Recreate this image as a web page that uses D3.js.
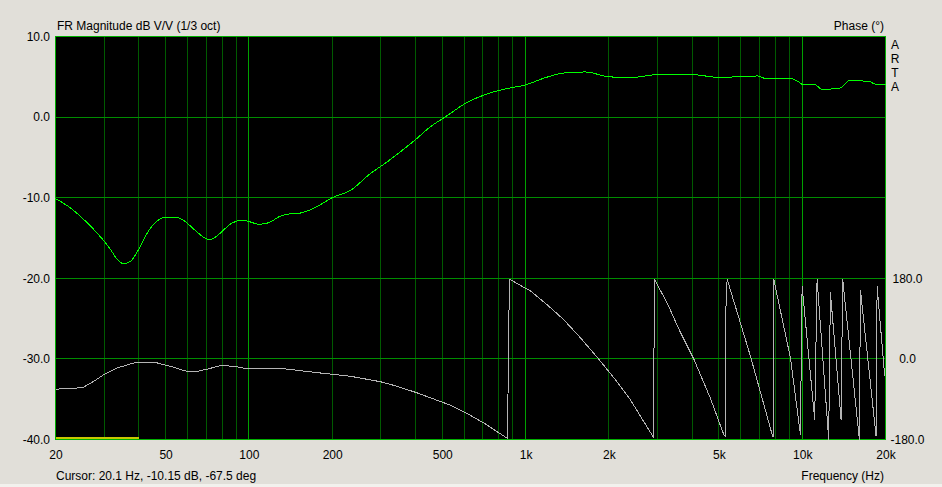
<!DOCTYPE html>
<html>
<head>
<meta charset="utf-8">
<script src="https://cdn.jsdelivr.net/npm/d3@7/dist/d3.min.js"></script>
<style>
  html, body { margin: 0; padding: 0; background: #e1dfd9; }
  svg { display: block; }
  text { font-family: "Liberation Sans", Arial, sans-serif; font-size: 12px; fill: #000; }
</style>
</head>
<body>
<svg id="chart" width="942" height="487"></svg>
<script>
// ---------------- data ----------------
const magFreq = [20, 22.7, 25.3, 28.3, 31.6, 33.5, 35.3, 37.3, 40.6, 43.4, 46.6, 49.9, 54.2, 58.0, 63.2, 68.6, 71.6, 75.7, 81.0, 87.3, 95, 101, 108.7, 118, 129.6, 141, 153.6, 166.6, 185, 200, 233, 275, 312, 353, 400, 453, 522, 606, 716, 846, 1000, 1181, 1394, 1646, 2000, 2392, 3073, 3944, 4467, 5000, 5735, 6889, 7365, 9067, 9580, 10100, 10970, 11400, 11800, 12400, 13100, 13700, 14200, 14800, 16200, 17600, 18300, 20000];
const magDb   = [-10.1, -11.3, -12.7, -14.4, -16.4, -17.7, -18.2, -17.9, -16.0, -14.1, -12.9, -12.4, -12.4, -12.8, -13.9, -14.9, -15.2, -14.9, -14.0, -13.1, -12.8, -13.0, -13.3, -13.1, -12.3, -12.0, -11.9, -11.5, -10.7, -10.0, -9.1, -7.0, -5.7, -4.3, -2.8, -1.2, 0.2, 1.7, 2.8, 3.5, 4.0, 4.9, 5.5, 5.6, 5.0, 4.9, 5.3, 5.3, 5.1, 4.9, 5.0, 5.1, 4.8, 4.8, 4.5, 4.0, 4.1, 3.8, 3.4, 3.4, 3.6, 3.6, 4.0, 4.6, 4.5, 4.4, 4.1, 4.1];

const phaseFreq = [20, 23.3, 25.3, 27.5, 29.9, 33.5, 38.4, 42.9, 46.6, 52, 59.8, 65, 71.6, 78.8, 89, 98, 133.7, 176, 233, 299, 343, 406, 536, 632, 706, 862, 866, 875, 1046, 1197, 1372, 1579, 1836, 2084, 2392, 2602, 2905, 2912, 2920, 3249, 3624, 4054, 4658, 5204, 5270, 5278, 5354, 6500, 7786, 7860, 7890, 9067, 9852, 9920, 9992, 11096, 11318, 12466, 12644, 13820, 14004, 16094, 16230, 18494, 18652, 19868];
const phaseDeg  = [-67.5, -66, -63, -50, -35, -20, -9, -7.5, -9, -16.5, -28, -28, -22, -15, -16.5, -22, -22, -30.6, -38.8, -51, -61, -76, -103.5, -126, -143, -178, 0, 178, 151, 121, 88, 47, 0, -42, -91, -128, -176, 0, 178, 125, 60, 0, -88, -169, -172, 88, 178, 6, -169, -175, 178, 2, -169, 0, 162, -135.5, 178, -180, 148.7, -135.5, 178, -180, 154.7, -172.7, 162, -38.8];

const xTickValues = [20, 50, 100, 200, 500, 1000, 2000, 5000, 10000, 20000];
const xTickLabels = ["20", "50", "100", "200", "500", "1k", "2k", "5k", "10k", "20k"];
const magTicks = [10, 0, -10, -20, -30, -40];
const phaseTicks = [180, 0, -180];
const cursorBand = [20, 40];

const titleLeft = "FR Magnitude dB V/V (1/3 oct)";
const titleRight = "Phase (°)";
const xTitle = "Frequency (Hz)";
const cursorText = "Cursor: 20.1 Hz, -10.15 dB, -67.5 deg";
const brand = ["A", "R", "T", "A"];

// ---------------- layout ----------------
const L = 55, R = 885, T = 36.5, B = 439.5;
const svg = d3.select("#chart");

const x = d3.scaleLog().domain([20, 20000]).range([L + 0.5, R + 0.5]);
const yMag = d3.scaleLinear().domain([10, -40]).range([T, B]);
const yPh = d3.scaleLinear().domain([-180, 180]).range([B, yMag(-20)]);

// bottom light strip
svg.append("rect").attr("x", 0).attr("y", 484).attr("width", 942).attr("height", 3).attr("fill", "#f2f1ed");

// plot background
svg.append("rect").attr("x", L).attr("y", 36).attr("width", R - L + 1).attr("height", 404).attr("fill", "#000");

const grid = svg.append("g").attr("shape-rendering", "crispEdges");
const snap = v => Math.floor(v) + 0.5;

// vertical grid lines
x.ticks().filter(f => f > 20 && f < 20000).forEach(f => {
  const isDecade = Math.abs(Math.log10(f) - Math.round(Math.log10(f))) < 1e-9;
  grid.append("line")
    .attr("x1", snap(x(f))).attr("x2", snap(x(f)))
    .attr("y1", 36).attr("y2", 440)
    .attr("stroke", isDecade ? "#00a000" : "#005a00").attr("stroke-width", 1);
});
// horizontal grid lines
magTicks.filter(v => v < 10 && v > -40).forEach(v => {
  grid.append("line")
    .attr("x1", L).attr("x2", R + 1)
    .attr("y1", snap(yMag(v))).attr("y2", snap(yMag(v)))
    .attr("stroke", "#008c00").attr("stroke-width", 1);
});
// border
grid.append("rect").attr("x", L + 0.5).attr("y", 36.5).attr("width", R - L).attr("height", 403)
  .attr("fill", "none").attr("stroke", "#00b000").attr("stroke-width", 1);

// cursor band (yellow)
svg.append("line")
  .attr("x1", x(cursorBand[0])).attr("x2", x(cursorBand[1]))
  .attr("y1", 437.5).attr("y2", 437.5)
  .attr("stroke", "#c8c800").attr("stroke-width", 2).attr("shape-rendering", "crispEdges");

// phase curve
const phaseData = phaseFreq.map((f, i) => [f, phaseDeg[i]]);
svg.append("path").datum(phaseData)
  .attr("fill", "none").attr("stroke", "#b4b4b4").attr("stroke-width", 1)
  .attr("shape-rendering", "crispEdges")
  .attr("d", d3.line().x(d => x(d[0])).y(d => yPh(d[1])));

// magnitude curve
const magData = magFreq.map((f, i) => [f, magDb[i]]);
svg.append("path").datum(magData)
  .attr("fill", "none").attr("stroke", "#00ff00").attr("stroke-width", 1)
  .attr("shape-rendering", "crispEdges")
  .attr("d", d3.line().curve(d3.curveMonotoneX).x(d => x(d[0])).y(d => yMag(d[1])));

// axes
const fmt = d => d.toFixed(1);
const leftAxis = svg.append("g").attr("transform", `translate(${L},0)`)
  .call(d3.axisLeft(yMag).tickValues(magTicks).tickFormat(fmt).tickSize(0).tickPadding(5));
const rightAxis = svg.append("g").attr("transform", `translate(${R},0)`)
  .call(d3.axisRight(yPh).tickValues(phaseTicks).tickFormat(fmt).tickSize(0).tickPadding(5));
const bottomAxis = svg.append("g").attr("transform", `translate(0,440)`)
  .call(d3.axisBottom(x).tickValues(xTickValues).tickFormat((d, i) => xTickLabels[i]).tickSize(0).tickPadding(10));
[leftAxis, rightAxis, bottomAxis].forEach(a => {
  a.select(".domain").remove();
  a.selectAll("text").attr("font-family", null).attr("font-size", null).attr("fill", "#000");
});
rightAxis.selectAll("text").attr("x", 22.5).attr("text-anchor", "middle");

// titles
svg.append("text").attr("x", 57).attr("y", 29.5).text(titleLeft);
svg.append("text").attr("x", 884).attr("y", 29.5).attr("text-anchor", "end").text(titleRight);
svg.append("text").attr("x", 884).attr("y", 479.5).attr("text-anchor", "end").text(xTitle);
svg.append("text").attr("x", 56).attr("y", 479.5).text(cursorText);
brand.forEach((c, i) => {
  svg.append("text").attr("x", 895).attr("y", 48.5 + i * 14.1).attr("text-anchor", "middle").text(c);
});
</script>
</body>
</html>
